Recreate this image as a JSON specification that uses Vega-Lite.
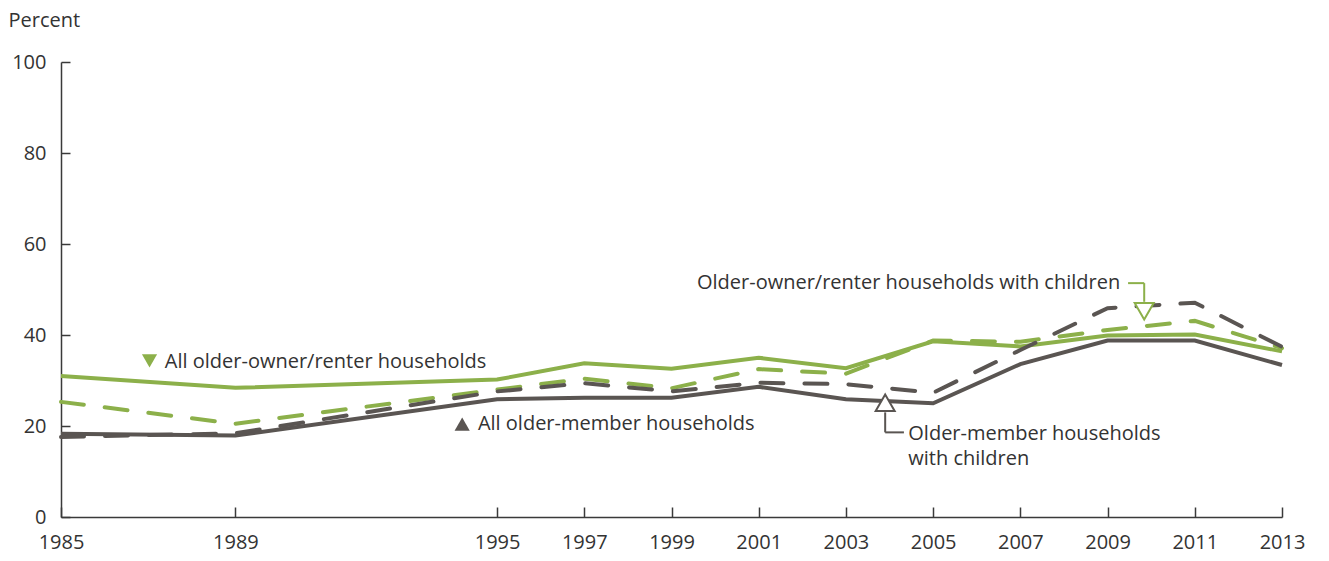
{
  "$schema": "https://vega.github.io/schema/vega-lite/v6.json",
  "width": 1221,
  "height": 455,
  "autosize": {"type": "none"},
  "padding": {"left": 61, "top": 62, "right": 47, "bottom": 44},
  "background": "white",
  "config": {
    "view": {"stroke": null},
    "font": "Open Sans",
    "axis": {
      "domainColor": "#3a3a3a",
      "domainWidth": 1.5,
      "tickColor": "#3a3a3a",
      "tickWidth": 1.5,
      "labelColor": "#333333",
      "labelFontSize": 20,
      "labelFont": "Open Sans",
      "grid": false
    }
  },
  "datasets": {
    "series": [
      {"year": 1985, "series": "owner_all", "value": 31.0},
      {"year": 1989, "series": "owner_all", "value": 28.4},
      {"year": 1995, "series": "owner_all", "value": 30.2},
      {"year": 1997, "series": "owner_all", "value": 33.8},
      {"year": 1999, "series": "owner_all", "value": 32.6},
      {"year": 2001, "series": "owner_all", "value": 35.0},
      {"year": 2003, "series": "owner_all", "value": 32.7},
      {"year": 2005, "series": "owner_all", "value": 38.6},
      {"year": 2007, "series": "owner_all", "value": 37.5},
      {"year": 2009, "series": "owner_all", "value": 39.9},
      {"year": 2011, "series": "owner_all", "value": 40.1},
      {"year": 2013, "series": "owner_all", "value": 36.4},
      {"year": 1985, "series": "member_all", "value": 18.3},
      {"year": 1989, "series": "member_all", "value": 17.9},
      {"year": 1995, "series": "member_all", "value": 25.9},
      {"year": 1997, "series": "member_all", "value": 26.2},
      {"year": 1999, "series": "member_all", "value": 26.2},
      {"year": 2001, "series": "member_all", "value": 28.6},
      {"year": 2003, "series": "member_all", "value": 25.9},
      {"year": 2005, "series": "member_all", "value": 25.0},
      {"year": 2007, "series": "member_all", "value": 33.6},
      {"year": 2009, "series": "member_all", "value": 38.8},
      {"year": 2011, "series": "member_all", "value": 38.8},
      {"year": 2013, "series": "member_all", "value": 33.4},
      {"year": 1985, "series": "owner_kids", "value": 25.3},
      {"year": 1989, "series": "owner_kids", "value": 20.5},
      {"year": 1995, "series": "owner_kids", "value": 28.0},
      {"year": 1997, "series": "owner_kids", "value": 30.4},
      {"year": 1999, "series": "owner_kids", "value": 28.3},
      {"year": 2001, "series": "owner_kids", "value": 32.5},
      {"year": 2003, "series": "owner_kids", "value": 31.5},
      {"year": 2005, "series": "owner_kids", "value": 38.8},
      {"year": 2007, "series": "owner_kids", "value": 38.5},
      {"year": 2009, "series": "owner_kids", "value": 41.1},
      {"year": 2011, "series": "owner_kids", "value": 43.1},
      {"year": 2013, "series": "owner_kids", "value": 37.1},
      {"year": 1985, "series": "member_kids", "value": 17.6},
      {"year": 1989, "series": "member_kids", "value": 18.4},
      {"year": 1995, "series": "member_kids", "value": 27.6},
      {"year": 1997, "series": "member_kids", "value": 29.4},
      {"year": 1999, "series": "member_kids", "value": 27.6},
      {"year": 2001, "series": "member_kids", "value": 29.5},
      {"year": 2003, "series": "member_kids", "value": 29.2},
      {"year": 2005, "series": "member_kids", "value": 27.3},
      {"year": 2007, "series": "member_kids", "value": 36.7},
      {"year": 2009, "series": "member_kids", "value": 45.9},
      {"year": 2011, "series": "member_kids", "value": 47.1},
      {"year": 2013, "series": "member_kids", "value": 37.4}
    ],
    "leftLabels": [
      {"year": 1987.38, "value": 34.1, "label": "All older-owner/renter households"},
      {"year": 1994.56, "value": 20.4, "label": "All older-member households"},
      {"year": 2004.43, "value": 18.2, "label": "Older-member households\nwith children"}
    ],
    "rightLabels": [
      {"year": 2009.29, "value": 51.4, "label": "Older-owner/renter households with children"}
    ],
    "solidTriangles": [
      {"year": 1987.03, "value": 34.3, "kind": "owner", "shape": "triangle-down"},
      {"year": 1994.2, "value": 20.4, "kind": "member", "shape": "triangle-up"}
    ],
    "openTriangles": [
      {"year": 2009.84, "value": 45.2, "kind": "owner", "shape": "triangle-down"},
      {"year": 2003.9, "value": 25.1, "kind": "member", "shape": "triangle-up"}
    ],
    "connectors": [
      {"kind": "owner", "x1": 2009.47, "y1": 51.4, "x2": 2009.84, "y2": 51.4},
      {"kind": "owner", "x1": 2009.84, "y1": 51.4, "x2": 2009.84, "y2": 47.3},
      {"kind": "member", "x1": 2003.9, "y1": 23.0, "x2": 2003.9, "y2": 18.6},
      {"kind": "member", "x1": 2003.9, "y1": 18.6, "x2": 2004.33, "y2": 18.6}
    ]
  },
  "layer": [
    {
      "data": {"name": "series"},
      "transform": [{"filter": "datum.series === 'owner_all'"}],
      "mark": {"type": "line", "color": "#8cb04a", "strokeWidth": 4},
      "encoding": {
        "x": {
          "field": "year", "type": "quantitative",
          "scale": {"domain": [1985, 2013], "nice": false, "zero": false},
          "axis": {
            "values": [1985, 1989, 1995, 1997, 1999, 2001, 2003, 2005, 2007, 2009, 2011, 2013],
            "format": "d", "title": null, "tickSize": -10, "labelPadding": 25,
            "labelFlush": false
          }
        },
        "y": {
          "field": "value", "type": "quantitative",
          "scale": {"domain": [0, 100], "nice": false},
          "axis": {
            "values": [0, 20, 40, 60, 80, 100],
            "tickSize": -9, "labelPadding": 24,
            "title": "Percent", "titleAngle": 0, "titleAlign": "left",
            "titleBaseline": "middle", "titleX": -53, "titleY": -42,
            "titleFontSize": 20, "titleFontWeight": "normal", "titleColor": "#333333",
            "titleFont": "Open Sans"
          }
        }
      }
    },
    {
      "data": {"name": "series"},
      "transform": [{"filter": "datum.series === 'member_all'"}],
      "mark": {"type": "line", "color": "#5a5552", "strokeWidth": 4},
      "encoding": {
        "x": {"field": "year", "type": "quantitative"},
        "y": {"field": "value", "type": "quantitative"}
      }
    },
    {
      "data": {"name": "series"},
      "transform": [{"filter": "datum.series === 'owner_kids'"}],
      "mark": {"type": "line", "color": "#8cb04a", "strokeWidth": 4, "strokeDash": [23, 21], "strokeCap": "round"},
      "encoding": {
        "x": {"field": "year", "type": "quantitative"},
        "y": {"field": "value", "type": "quantitative"}
      }
    },
    {
      "data": {"name": "series"},
      "transform": [{"filter": "datum.series === 'member_kids'"}],
      "mark": {"type": "line", "color": "#5a5552", "strokeWidth": 4, "strokeDash": [23, 21], "strokeCap": "round"},
      "encoding": {
        "x": {"field": "year", "type": "quantitative"},
        "y": {"field": "value", "type": "quantitative"}
      }
    },
    {
      "data": {"name": "connectors"},
      "mark": {"type": "rule", "strokeWidth": 2},
      "encoding": {
        "x": {"field": "x1", "type": "quantitative"},
        "y": {"field": "y1", "type": "quantitative"},
        "x2": {"field": "x2"},
        "y2": {"field": "y2"},
        "color": {"field": "kind", "type": "nominal", "scale": {"domain": ["owner", "member"], "range": ["#8cb04a", "#5a5552"]}, "legend": null}
      }
    },
    {
      "data": {"name": "openTriangles"},
      "mark": {"type": "point", "filled": false, "fill": "white", "strokeWidth": 2, "size": 360, "opacity": 1},
      "encoding": {
        "x": {"field": "year", "type": "quantitative"},
        "y": {"field": "value", "type": "quantitative"},
        "shape": {"field": "shape", "type": "nominal", "scale": null, "legend": null},
        "color": {"field": "kind", "type": "nominal", "legend": null}
      }
    },
    {
      "data": {"name": "solidTriangles"},
      "mark": {"type": "point", "filled": true, "size": 230, "opacity": 1},
      "encoding": {
        "x": {"field": "year", "type": "quantitative"},
        "y": {"field": "value", "type": "quantitative"},
        "shape": {"field": "shape", "type": "nominal", "scale": null, "legend": null},
        "color": {"field": "kind", "type": "nominal", "legend": null}
      }
    },
    {
      "data": {"name": "leftLabels"},
      "mark": {"type": "text", "fontSize": 20, "font": "Open Sans", "color": "#333333", "align": "left", "baseline": "middle", "lineBreak": "\n", "lineHeight": 25},
      "encoding": {
        "x": {"field": "year", "type": "quantitative"},
        "y": {"field": "value", "type": "quantitative"},
        "text": {"field": "label"}
      }
    },
    {
      "data": {"name": "rightLabels"},
      "mark": {"type": "text", "fontSize": 20, "font": "Open Sans", "color": "#333333", "align": "right", "baseline": "middle"},
      "encoding": {
        "x": {"field": "year", "type": "quantitative"},
        "y": {"field": "value", "type": "quantitative"},
        "text": {"field": "label"}
      }
    }
  ]
}
